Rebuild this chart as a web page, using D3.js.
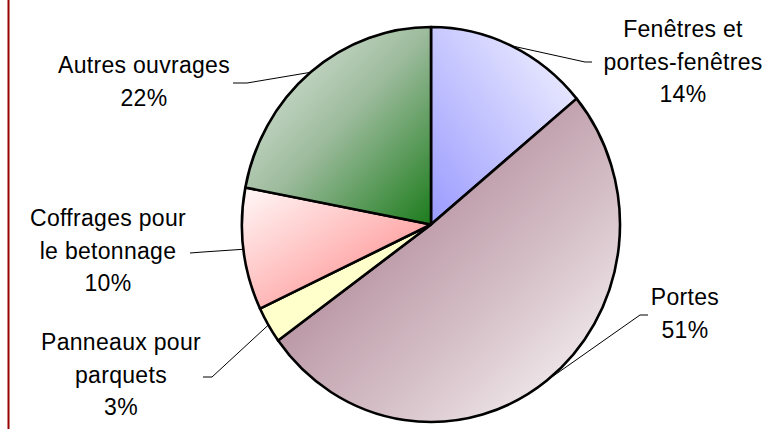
<!DOCTYPE html>
<html>
<head>
<meta charset="utf-8">
<script src="https://cdn.jsdelivr.net/npm/d3@7"></script>
<style>
  body { margin: 0; background: #fff; }
  svg { display: block; }
  text { font-family: "Liberation Sans", Arial, sans-serif; font-size: 23px; letter-spacing: 0.3px; fill: #000; }
</style>
</head>
<body>
<div id="chart"></div>
<script>
// data, clockwise from 12 o'clock
const categories = ["Fenêtres et portes-fenêtres", "Portes", "Panneaux pour parquets", "Coffrages pour le betonnage", "Autres ouvrages"];
const shares = [14, 51, 3, 10, 22];
const labelLines = [["Fenêtres et", "portes-fenêtres"], ["Portes"], ["Panneaux pour", "parquets"], ["Coffrages pour", "le betonnage"], ["Autres ouvrages"]];

// fills: [dark colour, mid colour, light colour, x1,y1 -> x2,y2 of the dark->light run]
const fills = [
     ["#9a9aff", "#c8c8ff", "#f6f6ff", 0, 1, 1, 0],
     ["#bc9aa7", "#d9c5cc", "#f9f7f8", 0.38, 0.38, 0.95, 0.95],
     ["#ffffcc", "#ffffcc", "#ffffcc", 0, 0, 1, 1],
     ["#ff7d7d", "#ffbcbc", "#fff8f8", 1, 1, 0, 0],
     ["#1c7c1c", "#9dbb9d", "#e8eee8", 1, 1, 0, 0]
];

// label placement (centre x, first baseline) and leader elbow / end
const labelAt = [[683, 37], [685, 305], [121, 350], [108, 226], [144, 73]];
const leaderElbow = [[585, 62], [640, 315], [212, 377], [203, 252], [247, 83]];
const leaderEnd = [[592, 62], [648, 315], [203, 377], [190, 253], [233, 83]];

const width = 776, height = 430;
const cx = 431, cy = 224.5, rx = 189, ry = 197.5;
const lineGap = 32.5;

let svg = d3.select("#chart").append("svg")
     .attr("width", width)
     .attr("height", height);

let defs = svg.append("defs");
fills.forEach((f, i) => {
     let lg = defs.append("linearGradient")
          .attr("id", "grad" + i)
          .attr("x1", f[3]).attr("y1", f[4])
          .attr("x2", f[5]).attr("y2", f[6]);
     lg.append("stop").attr("offset", 0).attr("stop-color", f[0]);
     lg.append("stop").attr("offset", 0.5).attr("stop-color", f[1]);
     lg.append("stop").attr("offset", 1).attr("stop-color", f[2]);
});

// left border
svg.append("line")
     .attr("x1", 8.5).attr("x2", 8.5)
     .attr("y1", 0).attr("y2", 429)
     .attr("stroke", "#9a0000")
     .attr("stroke-width", 2);

let pie = d3.pie().value(d => d).sort(null);
let arcs = pie(shares);

let arc = d3.arc().innerRadius(0).outerRadius(rx);

let g = svg.append("g")
     .attr("transform", `translate(${cx},${cy}) scale(1,${ry / rx})`);

g.selectAll("path")
     .data(arcs)
     .enter()
     .append("path")
     .attr("d", arc)
     .attr("fill", (d, i) => `url(#grad${i})`)
     .attr("stroke", "#000")
     .attr("stroke-width", 2.6)
     .attr("stroke-linejoin", "round")
     .attr("vector-effect", "non-scaling-stroke");

// leader lines from the rim at the mid angle
arcs.forEach((d, i) => {
     let a = (d.startAngle + d.endAngle) / 2;
     let px = cx + rx * Math.sin(a);
     let py = cy - ry * Math.cos(a);
     let pts = [[px, py], leaderElbow[i], leaderEnd[i]];
     svg.append("path")
          .attr("d", d3.line()(pts))
          .attr("fill", "none")
          .attr("stroke", "#000")
          .attr("stroke-width", 1);
});

// labels
labelLines.forEach((lines, i) => {
     let all = lines.concat([shares[i] + "%"]);
     let t = svg.append("text")
          .attr("text-anchor", "middle");
     all.forEach((s, k) => {
          t.append("tspan")
               .attr("x", labelAt[i][0])
               .attr("y", labelAt[i][1] + k * lineGap)
               .text(s);
     });
});
</script>
</body>
</html>
